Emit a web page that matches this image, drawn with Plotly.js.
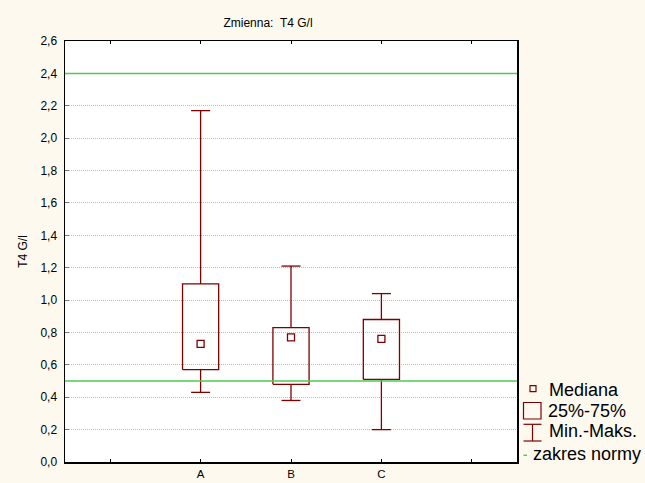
<!DOCTYPE html>
<html>
<head>
<meta charset="utf-8">
<script src="https://cdn.plot.ly/plotly-3.0.1.min.js"></script>
<style>
  html, body { margin: 0; padding: 0; background: #fdf9ef; }
  #chart { width: 645px; height: 483px; }
</style>
</head>
<body>
<div id="chart"></div>
<script>
// Box summary per group: min, quartiles, median, max
const categories = ['A', 'B', 'C'];
const minVals    = [0.43, 0.38, 0.20];
const q1Vals     = [0.57, 0.48, 0.51];
const medianVals = [0.73, 0.77, 0.76];
const q3Vals     = [1.10, 0.83, 0.88];
const maxVals    = [2.17, 1.21, 1.04];

// Reference range (lower, upper)
const normRange = [0.5, 2.4];

// Legend captions
const legendLabels = ['Mediana', '25%-75%', 'Min.-Maks.', 'zakres normy'];

const BOX_COLOR = '#800000';
const NORM_COLOR = '#4fca4f';
const BOX_HALF = 0.2;
const CAP_HALF = 0.105;

// category i sits at x = i + 1, with empty slots at 0 and 4
const xPos = categories.map((c, i) => i + 1);

// rectangles for the interquartile range
const boxX = [], boxY = [];
xPos.forEach((x, i) => {
  boxX.push(x - BOX_HALF, x + BOX_HALF, x + BOX_HALF, x - BOX_HALF, x - BOX_HALF, null);
  boxY.push(q1Vals[i], q1Vals[i], q3Vals[i], q3Vals[i], q1Vals[i], null);
});

// whiskers with caps
const whX = [], whY = [];
xPos.forEach((x, i) => {
  whX.push(x, x, null, x - CAP_HALF, x + CAP_HALF, null);
  whY.push(q3Vals[i], maxVals[i], null, maxVals[i], maxVals[i], null);
  whX.push(x, x, null, x - CAP_HALF, x + CAP_HALF, null);
  whY.push(q1Vals[i], minVals[i], null, minVals[i], minVals[i], null);
});

const traces = [
  { type: 'scatter', mode: 'lines', x: whX, y: whY, hoverinfo: 'skip',
    line: { color: BOX_COLOR, width: 1.3 }, showlegend: false },
  { type: 'scatter', mode: 'lines', x: boxX, y: boxY, hoverinfo: 'skip',
    line: { color: BOX_COLOR, width: 1.3 }, showlegend: false },
  { type: 'scatter', mode: 'markers', x: xPos, y: medianVals,
    marker: { symbol: 'square-open', size: 7, color: BOX_COLOR, line: { width: 1.3, color: BOX_COLOR } },
    showlegend: false }
];

// plot area geometry in pixels (used to place the hand-made legend)
const W = 645, H = 483;
const M = { l: 65, r: 128, t: 41, b: 21 };
const PW = W - M.l - M.r, PH = H - M.t - M.b;
const px = v => (v - M.l) / PW;
const py = v => (H - M.b - v) / PH;

const shapes = [];
// normal range lines across the whole plot
normRange.forEach(v => shapes.push({
  type: 'line', xref: 'paper', yref: 'y', x0: 0, x1: 1, y0: v, y1: v,
  line: { color: NORM_COLOR, width: 1.5 }
}));

// legend glyphs
const lp = (x0, y0, x1, y1) => ({ xref: 'paper', yref: 'paper', x0: px(x0), x1: px(x1), y0: py(y0), y1: py(y1) });
shapes.push(Object.assign({ type: 'rect', line: { color: BOX_COLOR, width: 1.2 } }, lp(530, 385.7, 536, 391.7)));
shapes.push(Object.assign({ type: 'rect', line: { color: BOX_COLOR, width: 1.2 } }, lp(523.5, 402.5, 541, 419)));
shapes.push(Object.assign({ type: 'line', line: { color: BOX_COLOR, width: 1.2 } }, lp(523.5, 424.3, 541.5, 424.3)));
shapes.push(Object.assign({ type: 'line', line: { color: BOX_COLOR, width: 1.2 } }, lp(523.5, 441, 541.5, 441)));
shapes.push(Object.assign({ type: 'line', line: { color: BOX_COLOR, width: 1.2 } }, lp(532.5, 424.3, 532.5, 441)));
shapes.push(Object.assign({ type: 'line', line: { color: NORM_COLOR, width: 1.5 } }, lp(523.5, 455.3, 527, 455.3)));

const legendX = [546.5, 545.5, 546.5, 530.5];
const legendY = [389.5, 410.5, 431, 453.8];
const annotations = legendLabels.map((t, i) => ({
  text: t, xref: 'paper', yref: 'paper', x: px(legendX[i]), y: py(legendY[i]),
  xanchor: 'left', yanchor: 'middle', showarrow: false,
  font: { family: 'Liberation Sans, Arial, sans-serif', size: 18, color: '#000' }
}));

const layout = {
  width: W, height: H,
  margin: M,
  paper_bgcolor: '#fdf9ef',
  plot_bgcolor: '#ffffff',
  separators: ', ',
  showlegend: false,
  font: { family: 'Liberation Sans, Arial, sans-serif', size: 12, color: '#000' },
  title: {
    text: 'Zmienna:\u00a0 T4 G/l',
    xref: 'container', yref: 'container',
    x: 268 / W, y: 1 - 23 / H, xanchor: 'center', yanchor: 'middle',
    font: { size: 12, color: '#000' }
  },
  xaxis: {
    range: [-0.5, 4.5],
    tickvals: [0, 1, 2, 3, 4],
    ticktext: [''].concat(categories, ['']),
    ticks: 'inside', ticklen: 3, tickcolor: '#000', tickwidth: 1,
    showline: true, linecolor: '#000', linewidth: 1.5, mirror: 'ticks',
    showgrid: false, zeroline: false, automargin: false,
    tickfont: { size: 11.5 }, ticklabelstandoff: 1,
    fixedrange: true
  },
  yaxis: {
    range: [0, 2.6],
    dtick: 0.2, tick0: 0, tickformat: '.1f',
    ticks: 'inside', ticklen: 4, tickcolor: '#777', tickwidth: 1,
    showline: true, linecolor: '#000', linewidth: 1.5, mirror: true,
    showgrid: true, gridcolor: '#bdbdbd', griddash: '1px,1px', gridwidth: 1,
    zeroline: false, automargin: false,
    tickfont: { size: 12 }, ticklabelstandoff: 4,
    title: { text: 'T4 G/l', font: { size: 12 }, standoff: 10 },
    fixedrange: true
  },
  shapes: shapes,
  annotations: annotations
};

Plotly.newPlot('chart', traces, layout, { displayModeBar: false, staticPlot: true });
</script>
</body>
</html>
